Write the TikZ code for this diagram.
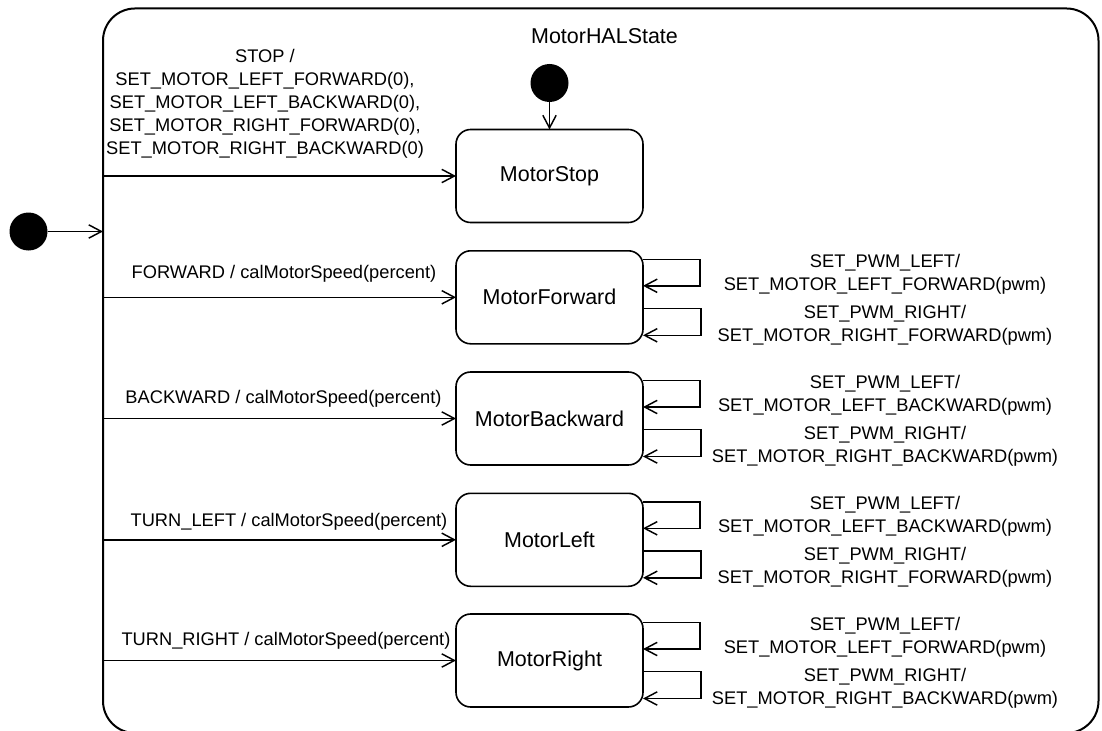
\documentclass[tikz,border=0pt]{standalone}
\usepackage{fontspec}
\setmainfont{Liberation Sans}
\usetikzlibrary{arrows.meta,calc}
\begin{document}
\begin{tikzpicture}[x=0.75pt,y=-0.75pt,
  every node/.style={inner sep=0pt, outer sep=0pt},
  container/.style={draw, line width=1.5pt, rounded corners=24pt,
    minimum width=746.6pt, minimum height=543.4pt},
  statebox/.style={draw, line width=1.2pt, rounded corners=11pt,
    minimum width=140.25pt, minimum height=69.75pt,
    font=\fontsize{16.1}{19}\selectfont},
  startdot/.style={circle, fill=black, minimum size=28.5pt},
  trans/.style={-{Straight Barb[length=9.5pt,width=10pt]}, line width=1.1pt},
  lbl/.style={align=center, font=\fontsize{13.7}{17.25}\selectfont},
  title/.style={font=\fontsize{16.1}{19}\selectfont},
]
\useasboundingbox (0,0) rectangle (1102,731);

% composite state
\node[container] (hal) at (600.75,370.75) {};
\node[title] (haltitle) at (604.5,36) {MotorHALState};

% pseudo-states
\node[startdot] (init) at (28.5,231.5) {};
\node[startdot] (init2) at (549.5,83) {};

% states
\node[statebox] (stop) at (549.5,176)   {MotorStop};
\node[statebox] (fw)   at (549.5,297.3) {MotorForward};
\node[statebox] (bw)   at (549.5,418.5) {MotorBackward};
\node[statebox] (lt)   at (549.5,539.8) {MotorLeft};
\node[statebox] (rt)   at (549.5,660.5) {MotorRight};

% initial transitions
\draw[trans] (init) -- (init -| hal.west);
\draw[trans] (init2) -- (stop);

% transitions from the composite border
\draw[trans] (stop -| hal.west) -- (stop);
\draw[trans] (fw -| hal.west) -- (fw);
\draw[trans] (bw -| hal.west) -- (bw);
\draw[trans] (lt -| hal.west) -- (lt);
\draw[trans] (rt -| hal.west) -- (rt);

\node[lbl] (lstop) at (265,103.7) {STOP /\\SET\_MOTOR\_LEFT\_FORWARD(0),\\SET\_MOTOR\_LEFT\_BACKWARD(0),\\SET\_MOTOR\_RIGHT\_FORWARD(0),\\SET\_MOTOR\_RIGHT\_BACKWARD(0)};
\node[lbl] (lfw) at (284,274) {FORWARD / calMotorSpeed(percent)};
\node[lbl] (lbw) at (283.5,399) {BACKWARD / calMotorSpeed(percent)};
\node[lbl] (llt) at (289,522) {TURN\_LEFT / calMotorSpeed(percent)};
\node[lbl] (lrt) at (286,641) {TURN\_RIGHT / calMotorSpeed(percent)};

% self transitions
\foreach \s in {fw,bw,lt,rt}{
  \draw[trans] ($(\s.east)+(0,-38)$) -| ($(\s.east)+(57,-11.5)$) -- ($(\s.east)+(0,-11.5)$);
  \draw[trans] ($(\s.east)+(0,11)$) -| ($(\s.east)+(58,38)$) -- ($(\s.east)+(0,38)$);
}

\node[lbl] (fw1) at ($(fw.center)+(335.5,-23.5)$) {SET\_PWM\_LEFT/\\SET\_MOTOR\_LEFT\_FORWARD(pwm)};
\node[lbl] (fw2) at ($(fw.center)+(335.5,27.5)$) {SET\_PWM\_RIGHT/\\SET\_MOTOR\_RIGHT\_FORWARD(pwm)};
\node[lbl] (bw1) at ($(bw.center)+(335.5,-23.5)$) {SET\_PWM\_LEFT/\\SET\_MOTOR\_LEFT\_BACKWARD(pwm)};
\node[lbl] (bw2) at ($(bw.center)+(335.5,27.5)$) {SET\_PWM\_RIGHT/\\SET\_MOTOR\_RIGHT\_BACKWARD(pwm)};
\node[lbl] (lt1) at ($(lt.center)+(335.5,-23.5)$) {SET\_PWM\_LEFT/\\SET\_MOTOR\_LEFT\_BACKWARD(pwm)};
\node[lbl] (lt2) at ($(lt.center)+(335.5,27.5)$) {SET\_PWM\_RIGHT/\\SET\_MOTOR\_RIGHT\_FORWARD(pwm)};
\node[lbl] (rt1) at ($(rt.center)+(335.5,-23.5)$) {SET\_PWM\_LEFT/\\SET\_MOTOR\_LEFT\_FORWARD(pwm)};
\node[lbl] (rt2) at ($(rt.center)+(335.5,27.5)$) {SET\_PWM\_RIGHT/\\SET\_MOTOR\_RIGHT\_BACKWARD(pwm)};
\end{tikzpicture}
\end{document}
